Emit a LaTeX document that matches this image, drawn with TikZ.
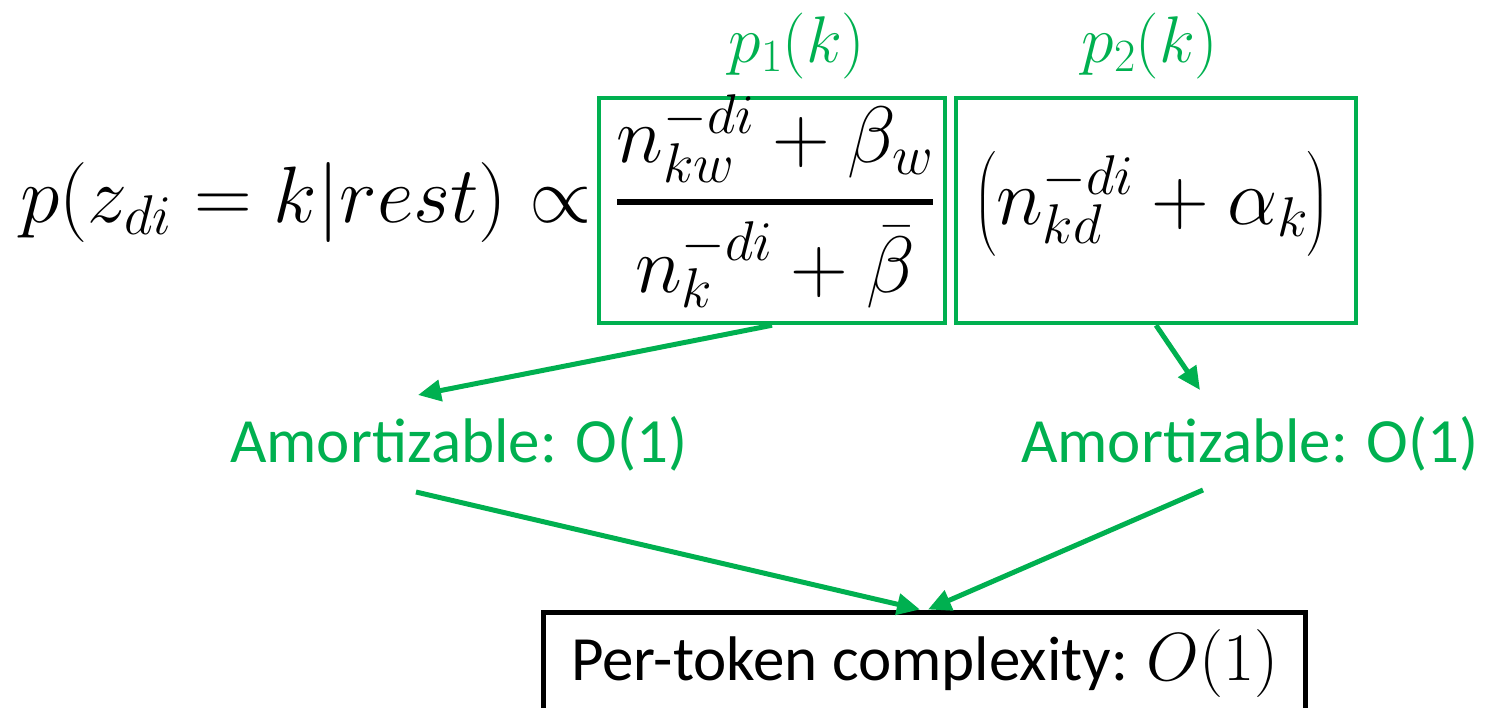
\RequirePackage{fix-cm}
\documentclass[tikz,border=0pt]{standalone}
\usepackage{amsmath}
\usepackage[no-math]{fontspec}
\setmainfont{Carlito}
\usetikzlibrary{arrows.meta,calc}
\definecolor{ogreen}{RGB}{0,176,80}

\begin{document}
\begin{tikzpicture}[x=1pt,y=-1pt,
  bigmath/.style={font=\fontsize{80}{96}\selectfont, inner sep=0pt},
  lblmath/.style={font=\fontsize{66}{80}\selectfont, text=ogreen, inner sep=0pt},
  gtext/.style={font=\fontsize{63}{76}\selectfont, text=ogreen, inner sep=0pt},
  btext/.style={font=\fontsize{63}{76}\selectfont, inner sep=0pt},
  gframe/.style={draw=ogreen, line width=4.5pt, inner sep=0pt,
    font=\fontsize{80}{96}\selectfont, text=black},
  bframe/.style={draw=black, line width=5pt, inner sep=0pt},
  garrow/.style={draw=ogreen, line width=5pt, -{Triangle[length=23pt,width=21pt]}}]
  \useasboundingbox (0,0) rectangle (1486,707);
  \clip (0,0) rectangle (1486,707);

  % left-hand side of the sampling rule
  \node[bigmath, anchor=base west] (lhs) at (20,222) {$p(z_{di}=k|rest)\propto$};

  % first factor: word-topic term
  \node[gframe, minimum width=346pt, minimum height=225pt,
        text height=100pt, text depth=77pt] (box1) at (772,210.5)
    {$\displaystyle\genfrac{}{}{5.5pt}{0}{n_{kw}^{-di}+\beta_w}{n_k^{-di}+\bar{\beta}}$\hspace*{-6pt}};
  \node[lblmath, anchor=base] (p1) at (797,62) {$p_1(k)$};

  % second factor: document-topic term
  \node[gframe, minimum width=400pt, minimum height=225pt,
        text height=100pt, text depth=73pt] (box2) at (1156,210.5)
    {$\bigl(n_{kd}^{-di}+\alpha_k\bigr)$\hspace*{8pt}};
  \node[lblmath, anchor=base] (p2) at (1150,62) {$p_2(k)$};

  % cost of each factor
  \node[gtext, anchor=base] (am1) at (459,462) {Amortizable: O(1)};
  \node[gtext, anchor=base] (am2) at (1250,462) {Amortizable: O(1)};

  % overall cost
  \node[bframe, minimum width=762pt, minimum height=200pt] (res) at (924,712) {};
  \node[btext, anchor=base] (restext) at (925,680) {Per-token complexity: {\fontsize{68}{80}\selectfont$O(1)$}};

  % connectors
  \coordinate (t1) at (418,395);
  \coordinate (t2) at (1200,390);
  \coordinate (s3) at (416,492);
  \coordinate (s4) at (1203,490);
  \draw[garrow] (box1.south) -- (t1);
  \draw[garrow] (box2.south) -- (t2);
  \draw[garrow] (s3) -- ([xshift=-4pt]res.north);
  \draw[garrow] (s4) -- ([xshift=4pt]res.north);
\end{tikzpicture}
\end{document}
